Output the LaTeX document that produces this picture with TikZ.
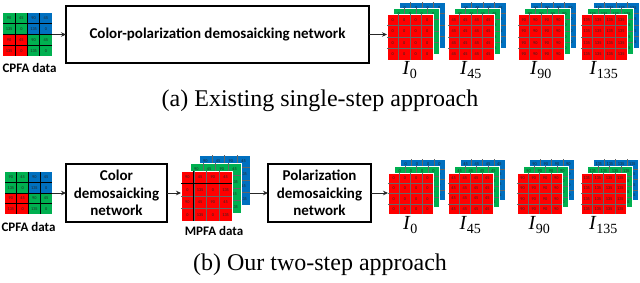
\documentclass[tikz,border=0pt]{standalone}
\usepackage{fontspec}
\setmainfont{Liberation Serif}
\newfontfamily\calib{Carlito}
\usetikzlibrary{calc,arrows.meta}
\definecolor{cred}{HTML}{FF0000}
\definecolor{cgreen}{HTML}{00B050}
\definecolor{cblue}{HTML}{0070C0}
\tikzset{
 layerbox/.style={draw=white, line width=0.8pt, inner sep=0pt, outer sep=0pt, anchor=north west},
 cellline/.style={draw=black!60, line width=0.35pt},
 darkline/.style={draw=black, line width=0.6pt},
 celltxt/.style={font=\calib\fontsize{4.3}{5}\selectfont, text=black!85, inner sep=0pt},
 netbox/.style={draw=black, line width=1.1pt, inner sep=0pt, outer sep=0pt, align=center, font=\calib\bfseries\fontsize{15}{17.5}\selectfont},
 datalabel/.style={font=\calib\bfseries\fontsize{13}{15}\selectfont, inner sep=0pt},
 ilabel/.style={font=\fontsize{20}{22}\selectfont, inner sep=0pt},
 captext/.style={font=\fontsize{24}{26}\selectfont, inner sep=0pt},
 arr/.style={-{Stealth[length=5pt,width=4.5pt]}, line width=0.8pt, black!85},
}
% grid lines and numbers on a node: name, w, h, line style, cell list macro
\newcommand\gridcells[5]{%
  \foreach \k in {1,2,3}{
    \draw[#4] ($(#1.north west)+({\k*#2/4},0)$) -- ++(0,#3);
    \draw[#4] ($(#1.north west)+(0,{\k*#3/4})$) -- ++(#2,0);
  }
  \foreach \t [count=\n from 0] in #5{
    \pgfmathtruncatemacro\ci{mod(\n,4)}
    \pgfmathtruncatemacro\cj{\n/4}
    \node[celltxt] at ($(#1.north west)+({(\ci+0.5)*#2/4},{(\cj+0.5)*#3/4})$) {\t};
  }
}
% one coloured layer: name, x, y, w, h, colour, cell list macro
\newcommand\gridlayer[7]{%
  \node[layerbox, fill=#6, minimum width=#4pt, minimum height=#5pt] (#1) at (#2,#3) {};
  \gridcells{#1}{#4}{#5}{cellline}{#7}
}
% stack of three layers: prefix, x, y, w, h, dx, dy, cell list
\newcommand\stack[8]{%
  \gridlayer{#1b}{#2+2*#6}{#3-2*#7}{#4}{#5}{cblue}{#8}
  \gridlayer{#1g}{#2+#6}{#3-#7}{#4}{#5}{cgreen}{#8}
  \gridlayer{#1r}{#2}{#3}{#4}{#5}{cred}{#8}
}
% CPFA mosaic: name, x, y, w, h
\newcommand\cpfa[5]{%
  \node[layerbox, draw=none, minimum width=#4pt, minimum height=#5pt] (#1) at (#2,#3) {};
  \fill[cgreen] (#1.north west) rectangle (#1.center);
  \fill[cblue] (#1.north) rectangle (#1.east);
  \fill[cred] (#1.west) rectangle (#1.south);
  \fill[cgreen] (#1.center) rectangle (#1.south east);
  \gridcells{#1}{#4}{#5}{darkline}{\cmos}
}
\def\cmos{90,45,90,45,135,0,135,0,90,45,90,45,135,0,135,0}
\def\cmpfa{90,45,90,45,0,135,0,135,90,45,90,45,0,135,0,135}
\def\cza{0,0,0,0,0,0,0,0,0,0,0,0,0,0,0,0}
\def\czb{45,45,45,45,45,45,45,45,45,45,45,45,45,45,45,45}
\def\czc{90,90,90,90,90,90,90,90,90,90,90,90,90,90,90,90}
\def\czd{135,135,135,135,135,135,135,135,135,135,135,135,135,135,135,135}
\begin{document}
\begin{tikzpicture}[x=1pt,y=-1pt]
\useasboundingbox[fill=white] (0,0) rectangle (640,282);

% ---------- (a) single-step ----------
\cpfa{cpA}{3}{13}{49}{43}
\node[datalabel] (cpAlab) at (29.5,68) {CPFA data};
\node[netbox, minimum width=303pt, minimum height=57pt] (netA) at (217.5,34.5) {Color-polarization demosaicking network};

\stack{aZ}{387}{14}{46}{46}{6}{6}{\cza}
\stack{aF}{448}{14}{46}{46}{6}{6}{\czb}
\stack{aN}{518}{14}{46}{46}{6}{6}{\czc}
\stack{aT}{581}{14}{46}{46}{6}{6}{\czd}

\node[ilabel] (aZl) at (410,70) {\textit{I}\textsubscript{0}};
\node[ilabel] (aFl) at (471,70) {\textit{I}\textsubscript{45}};
\node[ilabel] (aNl) at (541,70) {\textit{I}\textsubscript{90}};
\node[ilabel] (aTl) at (604,70) {\textit{I}\textsubscript{135}};

\draw[arr] (cpA.east) -- (netA.west);
\draw[arr] (netA.east) -- (netA.east -| aZr.west);

\node[captext] (capA) at (320,101) {(a) Existing single-step approach};

% ---------- (b) two-step ----------
\cpfa{cpB}{5}{172}{47}{42}
\node[datalabel] (cpBlab) at (28.5,227) {CPFA data};
\node[netbox, minimum width=101pt, minimum height=58pt] (colB) at (116.5,193) {Color\\demosaicking\\network};

\stack{mp}{181}{171}{51}{50}{9}{8}{\cmpfa}
\draw[darkline] ($(mpr.north west)+(12.75,0)$) -- ($(mpr.south west)+(12.75,0)$);
\draw[darkline] ($(mpr.north west)+(0,12.5)$) -- ($(mpr.north east)+(0,12.5)$);
\node[datalabel] (mplab) at (214,231) {MPFA data};

\node[netbox, minimum width=103pt, minimum height=58pt] (polB) at (319.5,193) {Polarization\\demosaicking\\network};

\stack{bZ}{388}{173}{45}{41}{6}{7}{\cza}
\stack{bF}{448}{173}{45}{41}{6}{7}{\czb}
\stack{bN}{517}{173}{45}{41}{6}{7}{\czc}
\stack{bT}{581}{173}{45}{41}{6}{7}{\czd}

\node[ilabel] (bZl) at (410.5,225) {\textit{I}\textsubscript{0}};
\node[ilabel] (bFl) at (470.5,225) {\textit{I}\textsubscript{45}};
\node[ilabel] (bNl) at (539.5,225) {\textit{I}\textsubscript{90}};
\node[ilabel] (bTl) at (603.5,225) {\textit{I}\textsubscript{135}};

\draw[arr] (cpB.east) -- (colB.west);
\draw[arr] (colB.east) -- (colB.east -| mpr.west);
\draw[arr] (mpb.east |- polB.west) -- (polB.west);
\draw[arr] (polB.east) -- (polB.east -| bZr.west);

\node[captext] (capB) at (320,265) {(b) Our two-step approach};
\end{tikzpicture}
\end{document}
